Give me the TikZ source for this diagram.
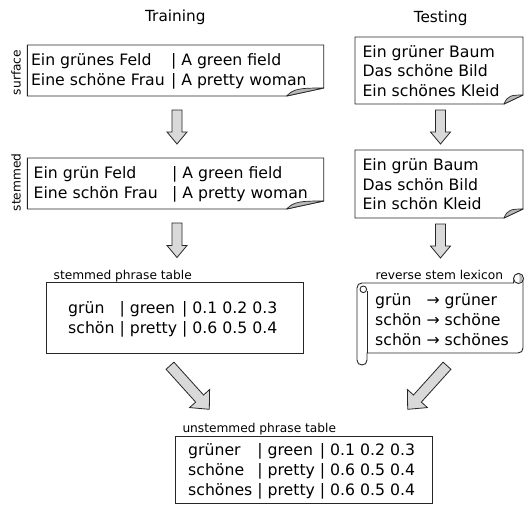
\documentclass[tikz,border=0pt]{standalone}
\usepackage{fontspec}
\setmainfont{DejaVu Sans}
\usetikzlibrary{calc}
\tikzset{
  boxline/.style={draw=black!85, line width=0.9pt, fill=white, line join=miter},
  foldfill/.style={draw=black!85, line width=0.7pt, fill=black!28, line join=round},
  barrowsty/.style={draw=black!85, line width=0.8pt, fill=black!15, line join=miter},
  doctext/.style={font=\fontsize{15.7}{19.5}\selectfont, inner sep=0pt, anchor=base west},
  tabtext/.style={font=\fontsize{15.7}{20}\selectfont, inner sep=0pt, anchor=base west},
  lab/.style={font=\fontsize{12.2}{14}\selectfont, inner sep=0pt, anchor=base west},
  side/.style={font=\fontsize{12.2}{14}\selectfont, inner sep=0pt, anchor=base, rotate=90},
  ttl/.style={font=\fontsize{15.3}{18}\selectfont, inner sep=0pt, anchor=base},
}
% document with curled bottom-right corner: x1,y1,x2,y2,foldwidth,foldheight
\newcommand\docshape[6]{%
  \draw[boxline] (#1,#2) -- (#3,#2) -- (#3,#4-#6) -- (#3-#5,#4) -- (#1,#4) -- cycle;
  \draw[foldfill] (#3-#5,#4) .. controls (#3-0.82*#5,#4-0.95*#6) and (#3-0.6*#5,#4-#6) .. (#3,#4-#6) -- cycle;
}
% block arrow: tail, tip, shaft half width, head half width, head length
\newcommand\blockarrow[5]{%
  \path ($(#2)!#5!(#1)$) coordinate (bah);
  \draw[barrowsty] ($(#1)!#3!90:(#2)$) -- ($(bah)!#3!90:(#2)$) -- ($(bah)!#4!90:(#2)$) -- (#2)
    -- ($(bah)!#4!-90:(#2)$) -- ($(bah)!#3!-90:(#2)$) -- ($(#1)!#3!-90:(#2)$) -- cycle;
}
\begin{document}
\begin{tikzpicture}[x=1pt,y=-1pt]
\useasboundingbox (0,0) rectangle (524,504);
\fill[white] (0,0) rectangle (524,504);

% titles and side labels
\node[ttl] (ttrain) at (175.3,21.7) {Training};
\node[ttl] (ttest) at (440.7,22) {Testing};
\node[side] (lsurf) at (20.5,72.5) {surface};
\node[side] (lstem) at (20.5,182.5) {stemmed};

% documents
\docshape{27.3}{45}{323.7}{96}{37}{8}
\docshape{27.3}{158}{323.7}{209}{37}{8}
\docshape{355}{37}{523}{104}{19}{9}
\docshape{355}{150}{523}{218}{19}{9}

\node[doctext] (trsurf) at (30.8,65.5) {\begin{tabular}[t]{@{}p{140pt}@{}l@{}}Ein grünes Feld & | A green field\\ Eine schöne Frau & | A pretty woman\end{tabular}};
\node[doctext] (trstem) at (33.5,178.8) {\begin{tabular}[t]{@{}p{138.5pt}@{}l@{}}Ein grün Feld & | A green field\\ Eine schön Frau & | A pretty woman\end{tabular}};
\node[doctext] (tesurf) at (362.3,57.2) {\begin{tabular}[t]{@{}l@{}}Ein grüner Baum\\ Das schöne Bild\\ Ein schönes Kleid\end{tabular}};
\node[doctext] (testem) at (362.3,170.5) {\begin{tabular}[t]{@{}l@{}}Ein grün Baum\\ Das schön Bild\\ Ein schön Kleid\end{tabular}};

% block arrows
\coordinate (a1t) at (177,110);   \coordinate (a1h) at (177,144);
\coordinate (a2t) at (177,223);   \coordinate (a2h) at (177,257.5);
\coordinate (a3t) at (440.5,110); \coordinate (a3h) at (440.5,144);
\coordinate (a4t) at (440.5,224); \coordinate (a4h) at (440.5,258);
\coordinate (a5t) at (170,365.7); \coordinate (a5h) at (209.3,409.3);
\coordinate (a6t) at (447,365.7); \coordinate (a6h) at (407.7,409.3);
\blockarrow{a1t}{a1h}{5pt}{10pt}{12pt}
\blockarrow{a2t}{a2h}{5pt}{10pt}{12pt}
\blockarrow{a3t}{a3h}{5pt}{10pt}{12pt}
\blockarrow{a4t}{a4h}{5pt}{10pt}{12pt}
\blockarrow{a5t}{a5h}{5.3pt}{13.5pt}{14.5pt}
\blockarrow{a6t}{a6h}{5.3pt}{13.5pt}{14.5pt}

% stemmed phrase table
\node[lab] (lspt) at (53.5,279.3) {stemmed phrase table};
\draw[boxline] (46.7,282.7) rectangle (303.3,353.3);
\node[tabtext] (spt) at (68,313) {\begin{tabular}[t]{@{}l@{ }l@{ }l@{}}grün & | green & | 0.1 0.2 0.3\\ schön & | pretty & | 0.6 0.5 0.4\end{tabular}};

% reverse stem lexicon (scroll)
\node[lab] (lrsl) at (375.5,279.3) {reverse stem lexicon};
\draw[boxline] (362,283) -- (513.5,283)
  .. controls (513.5,280) and (515.5,273.5) .. (518.5,273.5)
  .. controls (521.5,273.5) and (523,276) .. (523,278.5)
  -- (523,348) .. controls (523,351) and (521,353) .. (518,353)
  -- (367,353) -- (367,360)
  .. controls (367,363) and (365,365) .. (362,365)
  .. controls (359,365) and (357,363) .. (357,360)
  -- (357,288) .. controls (357,285) and (359,283) .. (362,283) -- cycle;
\draw[boxline] (518.5,278.5) circle[radius=5pt];
\fill[black!28] (518.5,274) .. controls (521,274) and (522.5,276) .. (522.5,278.5)
  .. controls (522.5,281) and (521,283) .. (518.5,283)
  .. controls (520,280.5) and (520,276.5) .. cycle;
\draw[black!85, line width=0.9pt] (367,291) -- (367,353);
\draw[boxline] (363.3,289.3) circle[radius=3.3pt];
\node[tabtext] (rsl) at (375,305) {\begin{tabular}[t]{@{}l@{ }l@{}}grün & → grüner\\ schön & → schöne\\ schön & → schönes\end{tabular}};

% unstemmed phrase table
\node[lab] (lupt) at (182.3,432.6) {unstemmed phrase table};
\draw[boxline] (175.7,436) rectangle (432.3,503.5);
\node[tabtext] (upt) at (188,455.5) {\begin{tabular}[t]{@{}l@{ }l@{ }l@{}}grüner & | green & | 0.1 0.2 0.3\\ schöne & | pretty & | 0.6 0.5 0.4\\ schönes & | pretty & | 0.6 0.5 0.4\end{tabular}};
\end{tikzpicture}
\end{document}
